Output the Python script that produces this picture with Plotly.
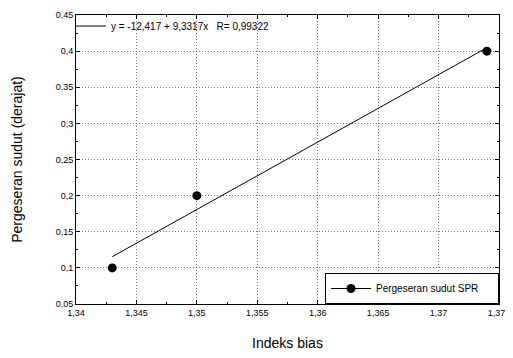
import plotly.graph_objects as go

# Data
indeks_bias = [1.343, 1.350, 1.374]
pergeseran = [0.1, 0.2, 0.4]
fit_intercept = -12.417
fit_slope = 9.3317
fit_r = 0.99322

x_ticks = [1.34, 1.345, 1.35, 1.355, 1.36, 1.365, 1.37, 1.375]
x_ticktext = ["1,34", "1,345", "1,35", "1,355", "1,36", "1,365", "1,37", "1,375"]
y_ticks = [0.05, 0.1, 0.15, 0.2, 0.25, 0.3, 0.35, 0.4, 0.45]
y_ticktext = ["0,05", "0,1", "0,15", "0,2", "0,25", "0,3", "0,35", "0,4", "0,45"]

fit_x = [min(indeks_bias), max(indeks_bias)]
fit_y = [fit_intercept + fit_slope * v for v in fit_x]

font = "Liberation Sans, Arial, sans-serif"

fig = go.Figure()
fig.add_trace(go.Scatter(
    x=fit_x, y=fit_y, mode="lines",
    line=dict(color="black", width=1),
    name="y = -12,417 + 9,3317x   R= 0,99322",
    legend="legend",
))
fig.add_trace(go.Scatter(
    x=indeks_bias, y=pergeseran, mode="markers",
    marker=dict(color="black", size=9),
    name="Pergeseran sudut SPR",
    showlegend=False,
))
# legend entry (line + marker sample) for the series
fig.add_trace(go.Scatter(
    x=[None], y=[None], mode="lines+markers",
    marker=dict(color="black", size=9),
    line=dict(color="black", width=1),
    name="Pergeseran sudut SPR",
    legend="legend2",
))

axis_common = dict(
    showline=True, linecolor="black", linewidth=1, mirror="allticks",
    ticks="inside", ticklen=4, tickcolor="black",
    showgrid=True, gridcolor="#777777", gridwidth=1, griddash="1px,2px",
    zeroline=False, automargin=False,
    tickfont=dict(family=font, size=9, color="black"),
)

fig.update_layout(
    width=505, height=350,
    margin=dict(l=68, r=14, t=4, b=54),
    plot_bgcolor="white", paper_bgcolor="white",
    font=dict(family=font, color="black"),
    xaxis=dict(
        range=[1.34, 1.375], tickvals=x_ticks, ticktext=x_ticktext,
        title=dict(text="Indeks bias", font=dict(size=14), standoff=21),
        minor=dict(ticks="inside", ticklen=2, dtick=0.0025, tickcolor="black", showgrid=False),
        **axis_common,
    ),
    yaxis=dict(
        range=[0.05, 0.45], tickvals=y_ticks, ticktext=y_ticktext,
        title=dict(text="Pergeseran sudut (derajat)", font=dict(size=14), standoff=29),
        minor=dict(ticks="inside", ticklen=2, dtick=0.025, tickcolor="black", showgrid=False),
        **axis_common,
    ),
    legend=dict(
        x=-0.012, y=1.012, xanchor="left", yanchor="top",
        bgcolor="rgba(0,0,0,0)", borderwidth=0,
        font=dict(size=10, family=font),
        itemwidth=30, tracegroupgap=0,
    ),
    legend2=dict(
        x=1, y=0, xanchor="right", yanchor="bottom",
        orientation="h", entrywidth=117,
        bgcolor="white", bordercolor="black", borderwidth=1,
        font=dict(size=10, family=font),
        itemwidth=40,
    ),
    showlegend=True,
)

fig.write_html("out.html")
